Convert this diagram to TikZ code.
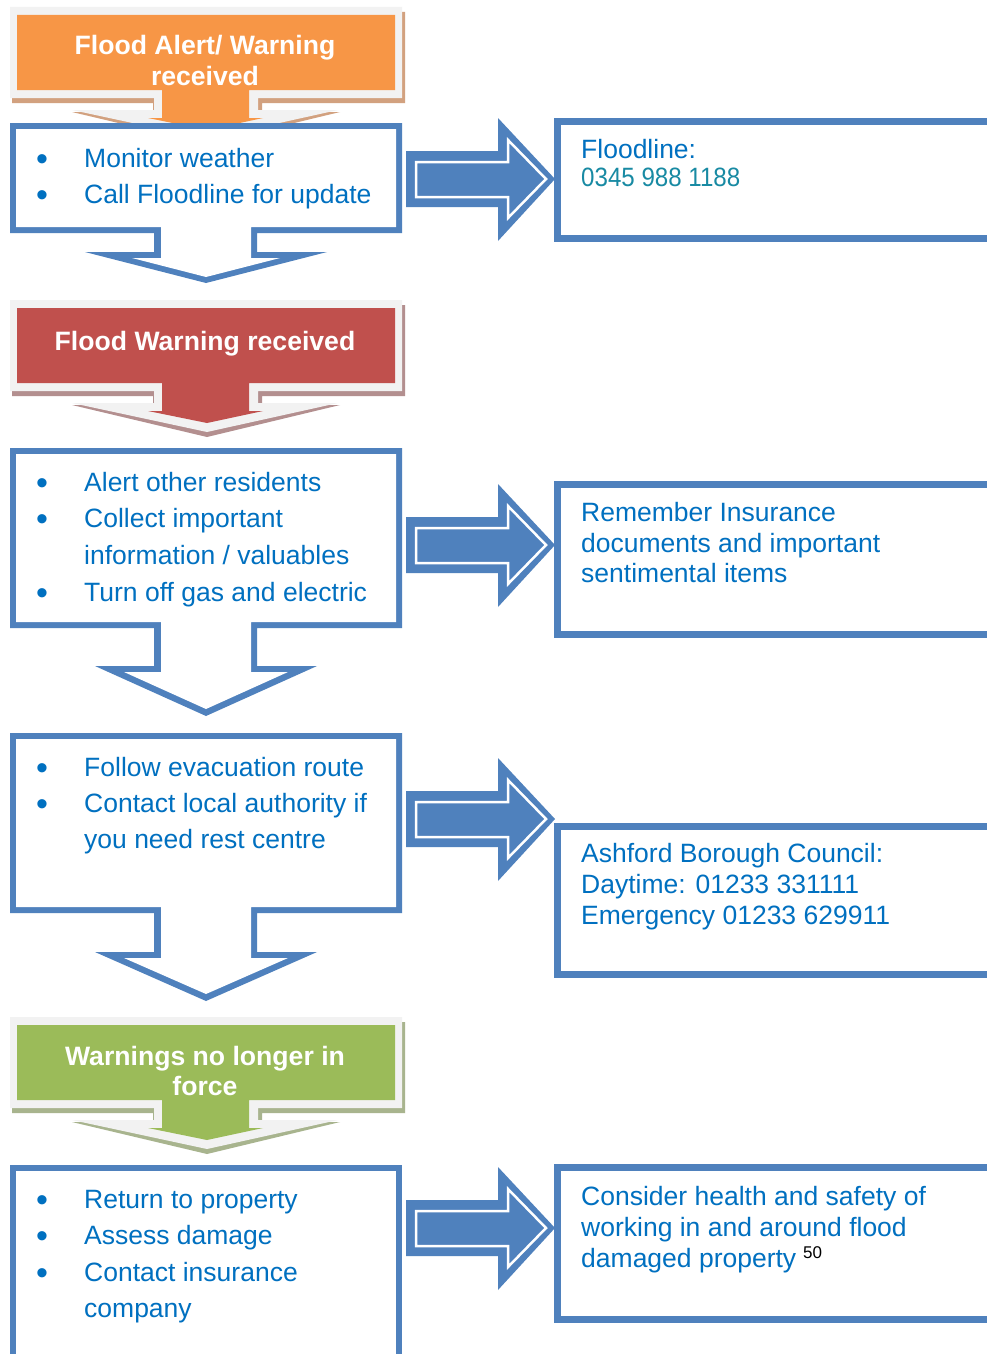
\documentclass[tikz,border=0pt]{standalone}
\usepackage{fontspec}
\setmainfont{Liberation Sans}
\definecolor{boxblue}{HTML}{4F81BD}
\definecolor{txtblue}{HTML}{0070C0}
\definecolor{numteal}{RGB}{24,138,163}
\definecolor{glowgray}{HTML}{F2F2F2}
\definecolor{alertorange}{HTML}{F79646}
\definecolor{alertshadow}{HTML}{D2A17F}
\definecolor{warnred}{HTML}{C0504D}
\definecolor{warnshadow}{HTML}{B38F8F}
\definecolor{cleargreen}{HTML}{9BBB59}
\definecolor{clearshadow}{HTML}{A8B48E}

% coloured banner with a down-pointing head: #1 top edge, #2 fill, #3 shadow
\newcommand\flagcallout[3]{%
  \begin{scope}[shift={(0,#1)}]
    \fill[#3] (12,-3) -- (405,-3) -- (405,88) -- (262,88) -- (262,97) -- (340,97)
      -- (207,129) -- (72,97) -- (153,97) -- (153,88) -- (12,88) -- cycle;
    \fill[glowgray] (10,-8) -- (402,-8) -- (402,83) -- (258,83) -- (258,95) -- (338,95)
      -- (207,124) -- (72,95) -- (154,95) -- (154,83) -- (10,83) -- cycle;
    \fill[#2] (17,0) -- (395,0) -- (395,75) -- (249,75) -- (249,103) -- (263,103)
      -- (207,115) -- (148,103) -- (162,103) -- (162,75) -- (17,75) -- cycle;
  \end{scope}}

% outlined block arrow pointing right, centred on height #1
\newcommand\rightblock[1]{%
  \begin{scope}[shift={(0,#1)}]
    \fill[boxblue] (406,-28) -- (498,-28) -- (498,-61) -- (555,0) -- (498,62)
      -- (498,28) -- (406,28) -- cycle;
    \draw[white, line width=2.5pt, line join=miter] (416,-17) -- (508,-17) -- (508,-39)
      -- (546,0) -- (508,39) -- (508,18) -- (416,18) -- cycle;
  \end{scope}}

\begin{document}
\begin{tikzpicture}[x=1pt, y=-1pt,
  ttl/.style={font=\bfseries\fontsize{26.6}{30}\selectfont, text=white, inner sep=0pt, anchor=base},
  item/.style={font=\fontsize{26.5}{30}\selectfont, text=txtblue, inner sep=0pt, anchor=base west},
  dot/.style={font=\fontsize{34}{36}\selectfont, text=txtblue, inner sep=0pt, anchor=base, yshift=-3pt},
  info/.style={font=\fontsize{26.5}{30}\selectfont, text=txtblue, inner sep=0pt, anchor=base west},
  infobox/.style={draw=boxblue, line width=7pt}]
\useasboundingbox (0,0) rectangle (987,1354);
\clip (0,0) rectangle (987,1354);
\fill[white] (0,0) rectangle (987,1354);

% ---- coloured stage banners
\flagcallout{15}{alertorange}{alertshadow}
\flagcallout{308}{warnred}{warnshadow}
\flagcallout{1025}{cleargreen}{clearshadow}

\node[ttl] (alertA) at (205,55) {Flood Alert/ Warning};
\node[ttl] (alertB) at (205,85) {received};
\node[ttl] (warn) at (205,350) {Flood Warning received};
\node[ttl] (clearA) at (205,1065) {Warnings no longer in};
\node[ttl] (clearB) at (205,1095) {force};

% ---- outlined action boxes with down arrows
% box A
\fill[boxblue] (10,123) -- (402,123) -- (402,233) -- (257,233) -- (257,252) -- (327,252)
  -- (206,283) -- (85,252) -- (154,252) -- (154,233) -- (10,233) -- cycle;
\fill[white] (16,129) -- (396,129) -- (396,227) -- (251,227) -- (251,258) -- (280,258)
  -- (206,277) -- (132,258) -- (161,258) -- (161,227) -- (16,227) -- cycle;
% box B
\fill[boxblue] (10,448) -- (402,448) -- (402,628) -- (257,628) -- (257,666) -- (317,666)
  -- (206,716) -- (95,666) -- (154,666) -- (154,628) -- (10,628) -- cycle;
\fill[white] (16,454) -- (396,454) -- (396,622) -- (251,622) -- (251,672) -- (288,672)
  -- (206,709) -- (124,672) -- (161,672) -- (161,622) -- (16,622) -- cycle;
% box C
\fill[boxblue] (10,733) -- (402,733) -- (402,913) -- (257,913) -- (257,952) -- (317,952)
  -- (206,1001) -- (95,952) -- (154,952) -- (154,913) -- (10,913) -- cycle;
\fill[white] (16,739) -- (396,739) -- (396,907) -- (251,907) -- (251,958) -- (288,958)
  -- (206,994) -- (124,958) -- (161,958) -- (161,907) -- (16,907) -- cycle;
% box D
\fill[boxblue] (10,1165) -- (402,1165) -- (402,1380) -- (10,1380) -- cycle;
\fill[white] (16,1171) -- (396,1171) -- (396,1380) -- (16,1380) -- cycle;

% ---- arrows to the side boxes
\rightblock{179}
\rightblock{545}
\rightblock{819}
\rightblock{1228}

% ---- side information boxes (open to the right)
\draw[infobox] (557.5,121.5) rectangle (1000,238.5);
\draw[infobox] (557.5,484.5) rectangle (1000,634.5);
\draw[infobox] (557.5,826) rectangle (1000,974);
\draw[infobox] (557.5,1167.5) rectangle (1000,1319.5);

% ---- box A text
\node[dot] (bA1) at (42,167) {•};
\node[item] (iA1) at (84,167) {Monitor weather};
\node[dot] (bA2) at (42,203) {•};
\node[item] (iA2) at (84,203) {Call Floodline for update};

% ---- box B text
\node[dot] (bB1) at (42,491) {•};
\node[item] (iB1) at (84,491) {Alert other residents};
\node[dot] (bB2) at (42,527) {•};
\node[item] (iB2) at (84,527) {Collect important};
\node[item] (iB2b) at (84,564) {information / valuables};
\node[dot] (bB3) at (42,601) {•};
\node[item] (iB3) at (84,601) {Turn off gas and electric};

% ---- box C text
\node[dot] (bC1) at (42,776) {•};
\node[item] (iC1) at (84,776) {Follow evacuation route};
\node[dot] (bC2) at (42,812) {•};
\node[item] (iC2) at (84,812) {Contact local authority if};
\node[item] (iC2b) at (84,848) {you need rest centre};

% ---- box D text
\node[dot] (bD1) at (42,1208) {•};
\node[item] (iD1) at (84,1208) {Return to property};
\node[dot] (bD2) at (42,1244) {•};
\node[item] (iD2) at (84,1244) {Assess damage};
\node[dot] (bD3) at (42,1281) {•};
\node[item] (iD3) at (84,1281) {Contact insurance};
\node[item] (iD3b) at (84,1317) {company};

% ---- side box texts
\node[info] (fl1) at (581,158) {Floodline:};
\node[info, text=numteal, xscale=0.91, transform shape] (fl2) at (581,186) {0345 988 1188};

\node[info] (ins1) at (581,521) {Remember Insurance};
\node[info] (ins2) at (581,552) {documents and important};
\node[info] (ins3) at (581,582) {sentimental items};

\node[info] (abc1) at (581,862) {Ashford Borough Council:};
\node[info] (abc2) at (581,893) {Daytime: 01233 331111};
\node[info] (abc3) at (581,924) {Emergency 01233 629911};

\node[info] (hs1) at (581,1205) {Consider health and safety of};
\node[info] (hs2) at (581,1236) {working in and around flood};
\node[info] (hs3) at (581,1267) {damaged property};
\node[font=\fontsize{17}{19}\selectfont, text=black, inner sep=0pt, anchor=base west]
  (ref) at (803,1258) {50};
\end{tikzpicture}
\end{document}
